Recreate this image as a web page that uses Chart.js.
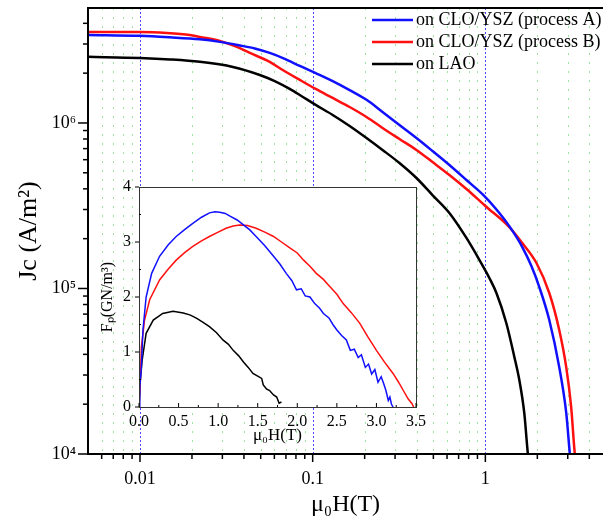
<!DOCTYPE html>
<html>
<head>
<meta charset="utf-8">
<script src="https://cdn.jsdelivr.net/npm/chart.js@4.4.1/dist/chart.umd.min.js"></script>
<style>
  body { margin: 0; background: #fff; }
  #wrap { position: relative; width: 604px; height: 525px; }
  #main { position: absolute; left: 0; top: 0; }
  #inset { position: absolute; left: 95px; top: 170px; }
</style>
</head>
<body>
<div id="wrap">
  <canvas id="main" width="604" height="525"></canvas>
  <canvas id="inset" width="340" height="280"></canvas>
</div>
<script>
// --- main plot data: Jc vs field (log-log) ---
const seriesLabels = ['on CLO/YSZ (process A)', 'on CLO/YSZ (process B)', 'on LAO'];
const seriesColors = ['#1010ff', '#ff1010', '#000000'];

const hA = [0.005, 0.01, 0.01491, 0.0222, 0.02901, 0.03786, 0.04621, 0.0564, 0.0689, 0.0842, 0.1041, 0.1306, 0.1637, 0.205, 0.2538, 0.318, 0.399, 0.494, 0.619, 0.777, 1.0, 1.205, 1.376, 1.637, 1.845, 2.053, 2.345, 2.678, 2.94, 3.06, 3.14];
const jcA = [3.40e6, 3.36e6, 3.29e6, 3.20e6, 3.09e6, 2.94e6, 2.82e6, 2.65e6, 2.44e6, 2.21e6, 2.00e6, 1.79e6, 1.58e6, 1.38e6, 1.166e6, 9.72e5, 8.11e5, 6.77e5, 5.57e5, 4.52e5, 3.57e5, 2.86e5, 2.38e5, 1.78e5, 1.37e5, 1.02e5, 6.45e4, 3.35e4, 1.77e4, 1.10e4, 8.0e3];

const hB = [0.005, 0.01, 0.01432, 0.01945, 0.0222, 0.02901, 0.0364, 0.04325, 0.0564, 0.0671, 0.0842, 0.1041, 0.1306, 0.1637, 0.205, 0.2538, 0.318, 0.399, 0.494, 0.619, 0.777, 1.0, 1.376, 1.637, 1.973, 2.345, 2.678, 2.94, 3.14, 3.27, 3.36];
const jcB = [3.55e6, 3.55e6, 3.50e6, 3.40e6, 3.31e6, 3.13e6, 2.88e6, 2.65e6, 2.34e6, 2.09e6, 1.82e6, 1.605e6, 1.416e6, 1.249e6, 1.087e6, 9.33e5, 8.00e5, 6.87e5, 5.81e5, 4.85e5, 3.99e5, 3.15e5, 2.35e5, 1.88e5, 1.43e5, 9.39e4, 5.62e4, 3.35e4, 1.92e4, 1.10e4, 8.0e3];

const hL = [0.005, 0.01, 0.01491, 0.0222, 0.03451, 0.04943, 0.0603, 0.07365, 0.0842, 0.1041, 0.1306, 0.1637, 0.205, 0.2538, 0.318, 0.399, 0.494, 0.619, 0.777, 0.923, 1.055, 1.159, 1.322, 1.472, 1.573, 1.68, 1.748, 1.796];
const jcL = [2.51e6, 2.47e6, 2.42e6, 2.34e6, 2.18e6, 1.95e6, 1.79e6, 1.605e6, 1.476e6, 1.285e6, 1.118e6, 9.59e5, 8.11e5, 6.87e5, 5.73e5, 4.65e5, 3.67e5, 2.86e5, 2.02e5, 1.49e5, 1.157e5, 9.39e4, 6.19e4, 3.86e4, 2.80e4, 1.77e4, 1.10e4, 8.0e3];

const xTickValues = [0.01, 0.1, 1];
const xTickLabels = ['0.01', '0.1', '1'];
const yTickValues = [1e4, 1e5, 1e6];
const yTickLabels = ['10⁴', '10⁵', '10⁶'];

// --- inset data: pinning force vs field (linear) ---
const fhA = [0, 0.01, 0.03, 0.05, 0.09, 0.16, 0.26, 0.37, 0.47, 0.58, 0.68, 0.79, 0.89, 0.96, 1.02, 1.09, 1.15, 1.24, 1.32, 1.40, 1.48, 1.59, 1.70, 1.78, 1.86, 1.93, 1.99, 2.05, 2.10, 2.16, 2.22, 2.28, 2.33, 2.40, 2.45, 2.50, 2.56, 2.62, 2.67, 2.72, 2.77, 2.81, 2.86, 2.90, 2.94, 2.98, 3.02, 3.06, 3.09, 3.12, 3.15, 3.17, 3.19, 3.21];
const fpA = [0, 0.35, 0.73, 1.40, 2.0, 2.43, 2.74, 2.95, 3.10, 3.23, 3.34, 3.45, 3.53, 3.55, 3.54, 3.52, 3.47, 3.40, 3.31, 3.22, 3.10, 2.93, 2.74, 2.60, 2.43, 2.30, 2.13, 2.15, 2.02, 2.0, 1.88, 1.80, 1.70, 1.62, 1.50, 1.40, 1.30, 1.22, 1.03, 1.05, 0.90, 0.95, 0.72, 0.78, 0.60, 0.68, 0.45, 0.55, 0.43, 0.30, 0.12, 0.18, 0.05, 0];

const fhB = [0, 0.017, 0.03, 0.07, 0.135, 0.26, 0.37, 0.47, 0.58, 0.68, 0.79, 0.89, 1.0, 1.10, 1.19, 1.27, 1.37, 1.48, 1.59, 1.70, 1.80, 1.91, 2.0, 2.08, 2.16, 2.24, 2.33, 2.41, 2.50, 2.58, 2.68, 2.79, 2.89, 3.0, 3.10, 3.21, 3.28, 3.34, 3.40, 3.45, 3.47];
const fpB = [0, 0.49, 1.09, 1.58, 1.95, 2.31, 2.51, 2.67, 2.81, 2.92, 3.02, 3.10, 3.18, 3.25, 3.29, 3.31, 3.30, 3.25, 3.18, 3.10, 3.00, 2.89, 2.80, 2.67, 2.56, 2.43, 2.32, 2.19, 2.05, 1.88, 1.72, 1.52, 1.28, 1.03, 0.82, 0.61, 0.45, 0.30, 0.15, 0.06, 0];

const fhL = [0, 0.017, 0.04, 0.09, 0.18, 0.30, 0.43, 0.56, 0.65, 0.73, 0.81, 0.89, 0.98, 1.06, 1.13, 1.19, 1.26, 1.32, 1.38, 1.44, 1.50, 1.55, 1.57, 1.61, 1.65, 1.70, 1.74, 1.77, 1.80];
const fpL = [0, 0.49, 0.85, 1.34, 1.58, 1.70, 1.74, 1.71, 1.67, 1.61, 1.54, 1.46, 1.35, 1.22, 1.14, 1.03, 0.93, 0.82, 0.72, 0.61, 0.56, 0.52, 0.40, 0.33, 0.30, 0.22, 0.18, 0.07, 0.09];

const SERIF = "'Liberation Serif', 'Times New Roman', serif";
const pts = (xs, ys) => xs.map((x, i) => ({ x, y: ys[i] }));

function lineSet(i, xs, ys, width, smooth) {
  const ds = {
    label: seriesLabels[i],
    data: pts(xs, ys),
    borderColor: seriesColors[i],
    borderWidth: width,
    pointRadius: 0,
    tension: 0,
    fill: false
  };
  if (smooth) ds.cubicInterpolationMode = 'monotone';
  return ds;
}

// keep chart area edges exactly where afterFit puts them
function noScalePad(s) {
  s.paddingTop = 0;
  s.paddingBottom = 0;
  s.paddingLeft = 0;
  s.paddingRight = 0;
}

// grid lines, axis ticks, frame and legend for the main plot
const mainDecor = {
  id: 'mainDecor',
  beforeDatasetsDraw(chart) {
    const { ctx, chartArea: a, scales: { x } } = chart;
    ctx.save();
    ctx.beginPath();
    ctx.rect(a.left, a.top, a.right - a.left, a.bottom - a.top);
    ctx.clip();
    ctx.lineWidth = 1;
    for (let d = -3; d <= 0; d++) {
      for (let m = 1; m <= 9; m++) {
        const v = m * Math.pow(10, d);
        if (v <= x.min || v >= x.max) continue;
        const px = Math.round(x.getPixelForValue(v)) + 0.5;
        if (m === 1) {
          ctx.strokeStyle = '#4848ff';
          ctx.setLineDash([2, 2]);
        } else {
          ctx.strokeStyle = '#9ee59e';
          ctx.setLineDash([2, 7]);
        }
        ctx.beginPath();
        ctx.moveTo(px, a.top);
        ctx.lineTo(px, a.bottom);
        ctx.stroke();
      }
    }
    ctx.restore();
  },
  afterDraw(chart) {
    const { ctx, chartArea: a, scales: { x, y } } = chart;
    ctx.save();
    ctx.strokeStyle = '#000';
    ctx.lineWidth = 1.5;
    // y ticks (outward)
    for (let d = 4; d <= 6; d++) {
      for (let m = 1; m <= 9; m++) {
        const v = m * Math.pow(10, d);
        if (v < y.min || v > y.max) continue;
        const py = y.getPixelForValue(v);
        const len = m === 1 ? 10 : 5;
        ctx.beginPath();
        ctx.moveTo(a.left - len, py);
        ctx.lineTo(a.left, py);
        ctx.stroke();
      }
    }
    // x ticks (outward)
    for (let d = -3; d <= 0; d++) {
      for (let m = 1; m <= 9; m++) {
        const v = m * Math.pow(10, d);
        if (v <= x.min || v > x.max) continue;
        const px = x.getPixelForValue(v);
        const len = m === 1 ? 8 : 5;
        ctx.beginPath();
        ctx.moveTo(px, a.bottom);
        ctx.lineTo(px, a.bottom + len);
        ctx.stroke();
      }
    }
    // frame
    ctx.lineWidth = 2;
    ctx.beginPath();
    ctx.moveTo(a.right, a.top);
    ctx.lineTo(a.left, a.top);
    ctx.lineTo(a.left, a.bottom);
    ctx.lineTo(a.right, a.bottom);
    ctx.stroke();
    // legend
    ctx.font = '18px ' + SERIF;
    ctx.textBaseline = 'middle';
    ctx.fillStyle = '#000';
    chart.data.datasets.forEach((ds, i) => {
      const ly = 20 + i * 22;
      ctx.strokeStyle = ds.borderColor;
      ctx.lineWidth = 2.5;
      ctx.beginPath();
      ctx.moveTo(372, ly);
      ctx.lineTo(413, ly);
      ctx.stroke();
      ctx.fillText(ds.label, 416, ly);
    });
    ctx.restore();
  }
};

new Chart(document.getElementById('main'), {
  type: 'line',
  data: {
    datasets: [
      lineSet(0, hA, jcA, 2.5, true),
      lineSet(1, hB, jcB, 2.5, true),
      lineSet(2, hL, jcL, 2.5, true)
    ]
  },
  options: {
    responsive: false,
    animation: false,
    layout: { padding: { top: 8, right: 1, left: 0, bottom: 0 } },
    plugins: { legend: { display: false }, tooltip: { enabled: false } },
    scales: {
      x: {
        type: 'logarithmic',
        min: 0.005,
        max: 4.8,
        afterBuildTicks: s => { s.ticks = xTickValues.map(v => ({ value: v })); },
        afterFit: s => { s.height = 71; noScalePad(s); },
        grid: { display: false, drawTicks: false },
        border: { display: false },
        ticks: {
          autoSkip: false, maxRotation: 0, padding: 14, color: '#000',
          font: { family: SERIF, size: 18 },
          callback: (v, i) => xTickLabels[i]
        },
        title: {
          display: true, text: 'μ₀H(T)', color: '#000',
          font: { family: SERIF, size: 24 }, padding: { top: 0, bottom: 6 }
        }
      },
      y: {
        type: 'logarithmic',
        min: 1e4,
        max: 4.95e6,
        afterBuildTicks: s => { s.ticks = yTickValues.map(v => ({ value: v })); },
        afterFit: s => { s.width = 88; noScalePad(s); },
        grid: { display: false, drawTicks: false },
        border: { display: false },
        ticks: {
          autoSkip: false, padding: 12, color: '#000',
          font: { family: SERIF, size: 18 },
          callback: (v, i) => yTickLabels[i]
        },
        title: {
          display: true, text: 'Jc (A/m²)', color: '#000',
          font: { family: SERIF, size: 26 }, padding: { top: 14, bottom: 0 }
        }
      }
    }
  },
  plugins: [mainDecor]
});

// white box, frame and ticks for the inset
const insetDecor = {
  id: 'insetDecor',
  beforeDraw(chart) {
    const { ctx, chartArea: a } = chart;
    ctx.save();
    ctx.fillStyle = '#fff';
    ctx.fillRect(a.left, a.top, a.right - a.left, a.bottom - a.top);
    ctx.restore();
  },
  afterDraw(chart) {
    const { ctx, chartArea: a, scales: { x, y } } = chart;
    ctx.save();
    ctx.strokeStyle = '#333';
    ctx.lineWidth = 1;
    ctx.strokeRect(Math.round(a.left) + 0.5, Math.round(a.top) + 0.5,
      Math.round(a.right - a.left), Math.round(a.bottom - a.top));
    ctx.strokeStyle = '#000';
    for (let v = 0; v <= 3.5001; v += 0.25) {
      const px = x.getPixelForValue(v);
      const len = Math.abs(v * 2 - Math.round(v * 2)) < 0.01 ? 4 : 2;
      ctx.beginPath();
      ctx.moveTo(px, a.bottom);
      ctx.lineTo(px, a.bottom - len);
      ctx.stroke();
    }
    for (let v = 0; v <= 4; v += 0.5) {
      const py = y.getPixelForValue(v);
      const isMajor = Number.isInteger(v);
      ctx.beginPath();
      ctx.moveTo(a.left - (isMajor ? 4 : 0), py);
      ctx.lineTo(a.left + (isMajor ? 0 : 2), py);
      ctx.stroke();
    }
    ctx.restore();
  }
};

new Chart(document.getElementById('inset'), {
  type: 'line',
  data: {
    datasets: [
      lineSet(0, fhA, fpA, 1.5, false),
      lineSet(1, fhB, fpB, 1.5, false),
      lineSet(2, fhL, fpL, 1.5, false)
    ]
  },
  options: {
    responsive: false,
    animation: false,
    layout: { padding: { top: 17, right: 19, left: 0, bottom: 0 } },
    plugins: { legend: { display: false }, tooltip: { enabled: false } },
    scales: {
      x: {
        type: 'linear', min: 0, max: 3.5,
        afterFit: s => { s.height = 43; noScalePad(s); },
        grid: { display: false, drawTicks: false },
        border: { display: false },
        ticks: {
          stepSize: 0.5, autoSkip: false, maxRotation: 0, padding: 5, color: '#000',
          font: { family: SERIF, size: 16 },
          callback: v => Number(v).toFixed(1)
        },
        title: {
          display: true, text: 'μ₀H(T)', color: '#000',
          font: { family: SERIF, size: 17 }, padding: { top: 0, bottom: 4 }
        }
      },
      y: {
        type: 'linear', min: 0, max: 4,
        afterFit: s => { s.width = 44; noScalePad(s); },
        grid: { display: false, drawTicks: false },
        border: { display: false },
        ticks: {
          stepSize: 1, autoSkip: false, padding: 8, color: '#000',
          font: { family: SERIF, size: 16 }
        },
        title: {
          display: true, text: 'Fₚ(GN/m³)', color: '#000',
          font: { family: SERIF, size: 16 }, padding: { top: 3, bottom: 0 }
        }
      }
    }
  },
  plugins: [insetDecor]
});
</script>
</body>
</html>
